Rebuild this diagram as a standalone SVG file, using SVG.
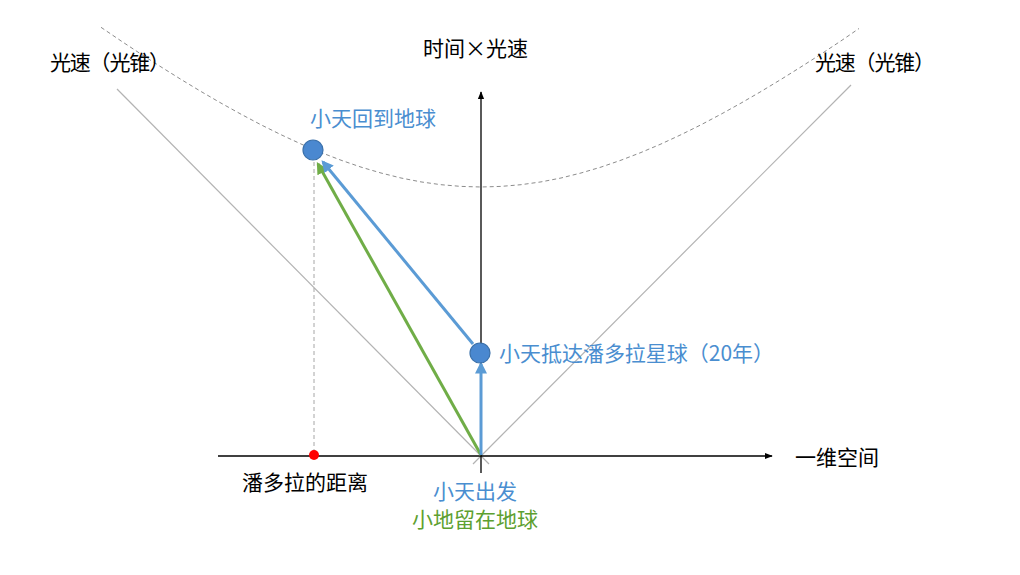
<svg xmlns="http://www.w3.org/2000/svg" width="1020" height="575" viewBox="0 0 1020 575">
<defs>
<marker id="axArrow" viewBox="0 0 10 10" refX="9" refY="5" markerWidth="8" markerHeight="8" markerUnits="userSpaceOnUse" orient="auto"><path d="M0,1 L10,5 L0,9 Z" fill="#000"/></marker>
<marker id="blueArrow" viewBox="0 0 10 10" refX="8" refY="5" markerWidth="4" markerHeight="4" orient="auto"><path d="M0,0 L10,5 L0,10 Z" fill="#5B9BD5"/></marker>
<marker id="greenArrow" viewBox="0 0 10 10" refX="8" refY="5" markerWidth="4" markerHeight="4" orient="auto"><path d="M0,0 L10,5 L0,10 Z" fill="#70AD47"/></marker>
</defs>
<style>
text{font-family:"Microsoft YaHei","Noto Sans CJK SC","Liberation Sans",sans-serif;font-size:21px}
.blk{fill:#000}
.blu{fill:#4A8ED0}
.grn{fill:#5DA02F}
.axis{stroke:#000;stroke-width:1.3;fill:none}
.cone{stroke:#B3B3B3;stroke-width:1.2;fill:none}
.hyp{stroke:#8C8C8C;stroke-width:1;stroke-dasharray:4 3;fill:none}
.dot{fill:#4A88D0;stroke:#3A70AA;stroke-width:1.2}
</style>
<rect width="1020" height="575" fill="#fff"/>
<g id="connectors">
<path class="hyp" d="M101,27.3 L121,40.9 L141,54.1 L161,66.9 L181,79.4 L201,91.5 L221,103.1 L241,114.2 L261,124.8 L281,134.7 L301,144 L321,152.5 L341,160.2 L361,167.1 L381,173 L401,178 L421,181.9 L441,184.7 L461,186.4 L481,187 L501,186.4 L521,184.7 L541,181.9 L561,178 L581,173 L601,167.1 L621,160.2 L641,152.5 L661,144 L681,134.7 L701,124.8 L721,114.2 L741,103.1 L761,91.5 L781,79.4 L801,66.9 L821,54.1 L841,40.9 L859,28.5"/>
<line class="cone" x1="117" y1="89" x2="489" y2="464"/>
<line class="cone" x1="851" y1="85" x2="473" y2="464"/>
<line class="axis" x1="218" y1="456" x2="772" y2="456" marker-end="url(#axArrow)"/>
<line class="axis" x1="481" y1="473" x2="481" y2="92" marker-end="url(#axArrow)"/>
<line x1="314" y1="162" x2="314" y2="455" stroke="#A6A6A6" stroke-width="1" stroke-dasharray="4 3"/>
<line x1="481" y1="455" x2="318" y2="164" stroke="#70AD47" stroke-width="3" marker-end="url(#greenArrow)"/>
<line x1="481" y1="455" x2="481" y2="364" stroke="#5B9BD5" stroke-width="3" marker-end="url(#blueArrow)"/>
<line x1="473" y1="344" x2="323" y2="162" stroke="#5B9BD5" stroke-width="3" marker-end="url(#blueArrow)"/>
</g>
<g id="node-return"><circle class="dot" cx="313" cy="150" r="10"/><text class="blu" x="310" y="126">小天回到地球</text></g>
<g id="node-arrive"><circle class="dot" cx="480" cy="353" r="10"/><text class="blu" x="499" y="361" textLength="275">小天抵达潘多拉星球（20年）</text></g>
<g id="node-distance"><circle cx="314" cy="455" r="5" fill="#FF0000"/><text class="blk" x="242" y="490">潘多拉的距离</text></g>
<g id="node-start"><text class="blu" x="475" y="499" text-anchor="middle">小天出发</text><text class="grn" x="475" y="527" text-anchor="middle">小地留在地球</text></g>
<g id="label-time"><text class="blk" x="423" y="56">时间×光速</text></g>
<g id="label-space"><text class="blk" x="795" y="465">一维空间</text></g>
<g id="label-cone-left"><text class="blk" x="50" y="70" textLength="120">光速（光锥）</text></g>
<g id="label-cone-right"><text class="blk" x="815" y="70" textLength="120">光速（光锥）</text></g>
</svg>
